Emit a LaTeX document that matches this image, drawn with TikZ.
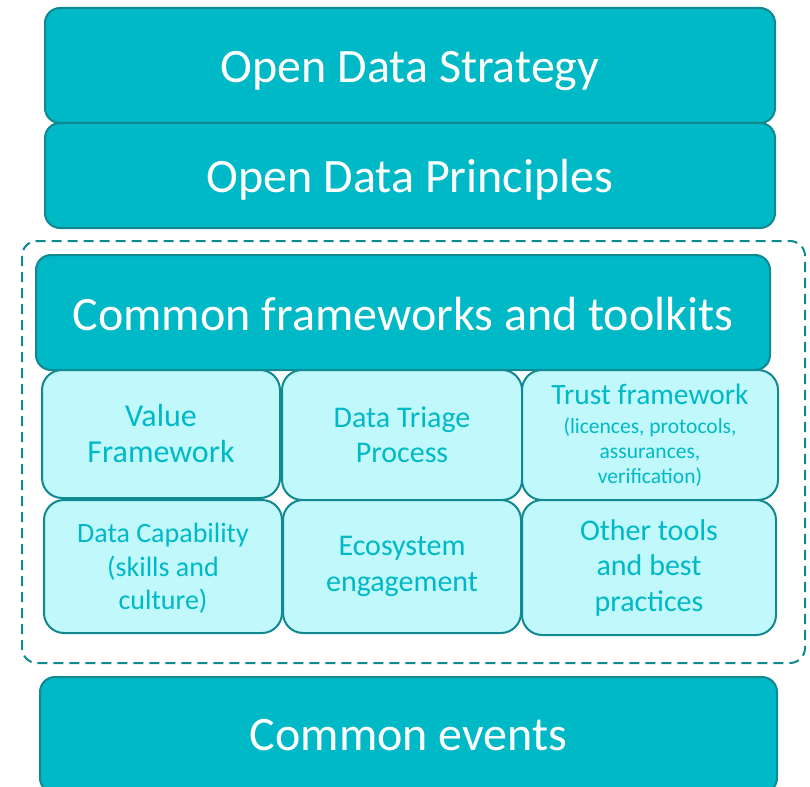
\documentclass[tikz,border=0pt]{standalone}
\usepackage{fontspec}
\setmainfont{Carlito}
\definecolor{tealfill}{RGB}{0,185,198}
\definecolor{tealedge}{RGB}{16,137,145}
\definecolor{tealpale}{RGB}{192,248,252}
\tikzset{
  layer/.style={
    rectangle,
    rounded corners=15pt,
    line width=2pt,
    draw=tealedge,
    fill=tealfill,
    text=white,
    inner sep=0pt,
    text height=35pt,
    text depth=0pt,
    font=\fontsize{48}{56}\selectfont
  },
  tool/.style={
    rectangle,
    rounded corners=20pt,
    line width=2pt,
    draw=tealedge,
    fill=tealpale,
    text=tealfill,
    inner sep=0pt,
    align=center,
    font=\fontsize{30}{35.5}\selectfont
  },
  toolkit-frame/.style={
    rounded corners=15pt,
    line width=2pt,
    draw=tealedge,
    dash pattern=on 10pt off 6pt
  }
}

\begin{document}
\begin{tikzpicture}[x=1pt,y=-1pt]
  \useasboundingbox (0,0) rectangle (810,786);

  % Dashed frame round the toolkit block
  \draw[toolkit-frame] (22,241) rectangle (805,663);

  % Top layers
  \node[layer, minimum width=730pt, minimum height=115pt] (strategy) at (410,65.5) {Open Data Strategy};
  \node[layer, minimum width=730pt, minimum height=105pt] (principles) at (410,175.5) {Open Data Principles};

  % Frameworks header
  \node[layer, minimum width=734pt, minimum height=115pt] (frameworks) at (403,312.5) {Common frameworks and toolkits};

  % Toolkit cells, first row
  \node[tool, minimum width=238pt, minimum height=128pt, font=\fontsize{32}{36}\selectfont] (value) at (161,434) {Value\\Framework};
  \node[tool, minimum width=240pt, minimum height=130pt] (triage) at (402,435) {Data Triage\\Process};
  \node[tool, minimum width=256pt, minimum height=130pt, font=\fontsize{21.5}{25}\selectfont] (trust) at (650,435)
    {{\fontsize{29.5}{35}\selectfont Trust framework}\\[4.5pt](licences, protocols,\\assurances,\\verification)};

  % Toolkit cells, second row
  \node[tool, minimum width=238pt, minimum height=133pt, font=\fontsize{28}{33.5}\selectfont,
        text depth=-4pt] (capability) at (163,566.5) {Data Capability\\(skills and\\culture)};
  \node[tool, minimum width=238pt, minimum height=133pt] (ecosystem) at (402,566.5) {Ecosystem\\engagement};
  \node[tool, minimum width=254pt, minimum height=135pt] (othertools) at (649,567.5) {Other tools\\and best\\practices};

  % Bottom layer, runs off the lower edge
  \node[layer, minimum width=737pt, minimum height=116pt, text depth=4pt] (events) at (408.5,735) {Common events};
\end{tikzpicture}
\end{document}
